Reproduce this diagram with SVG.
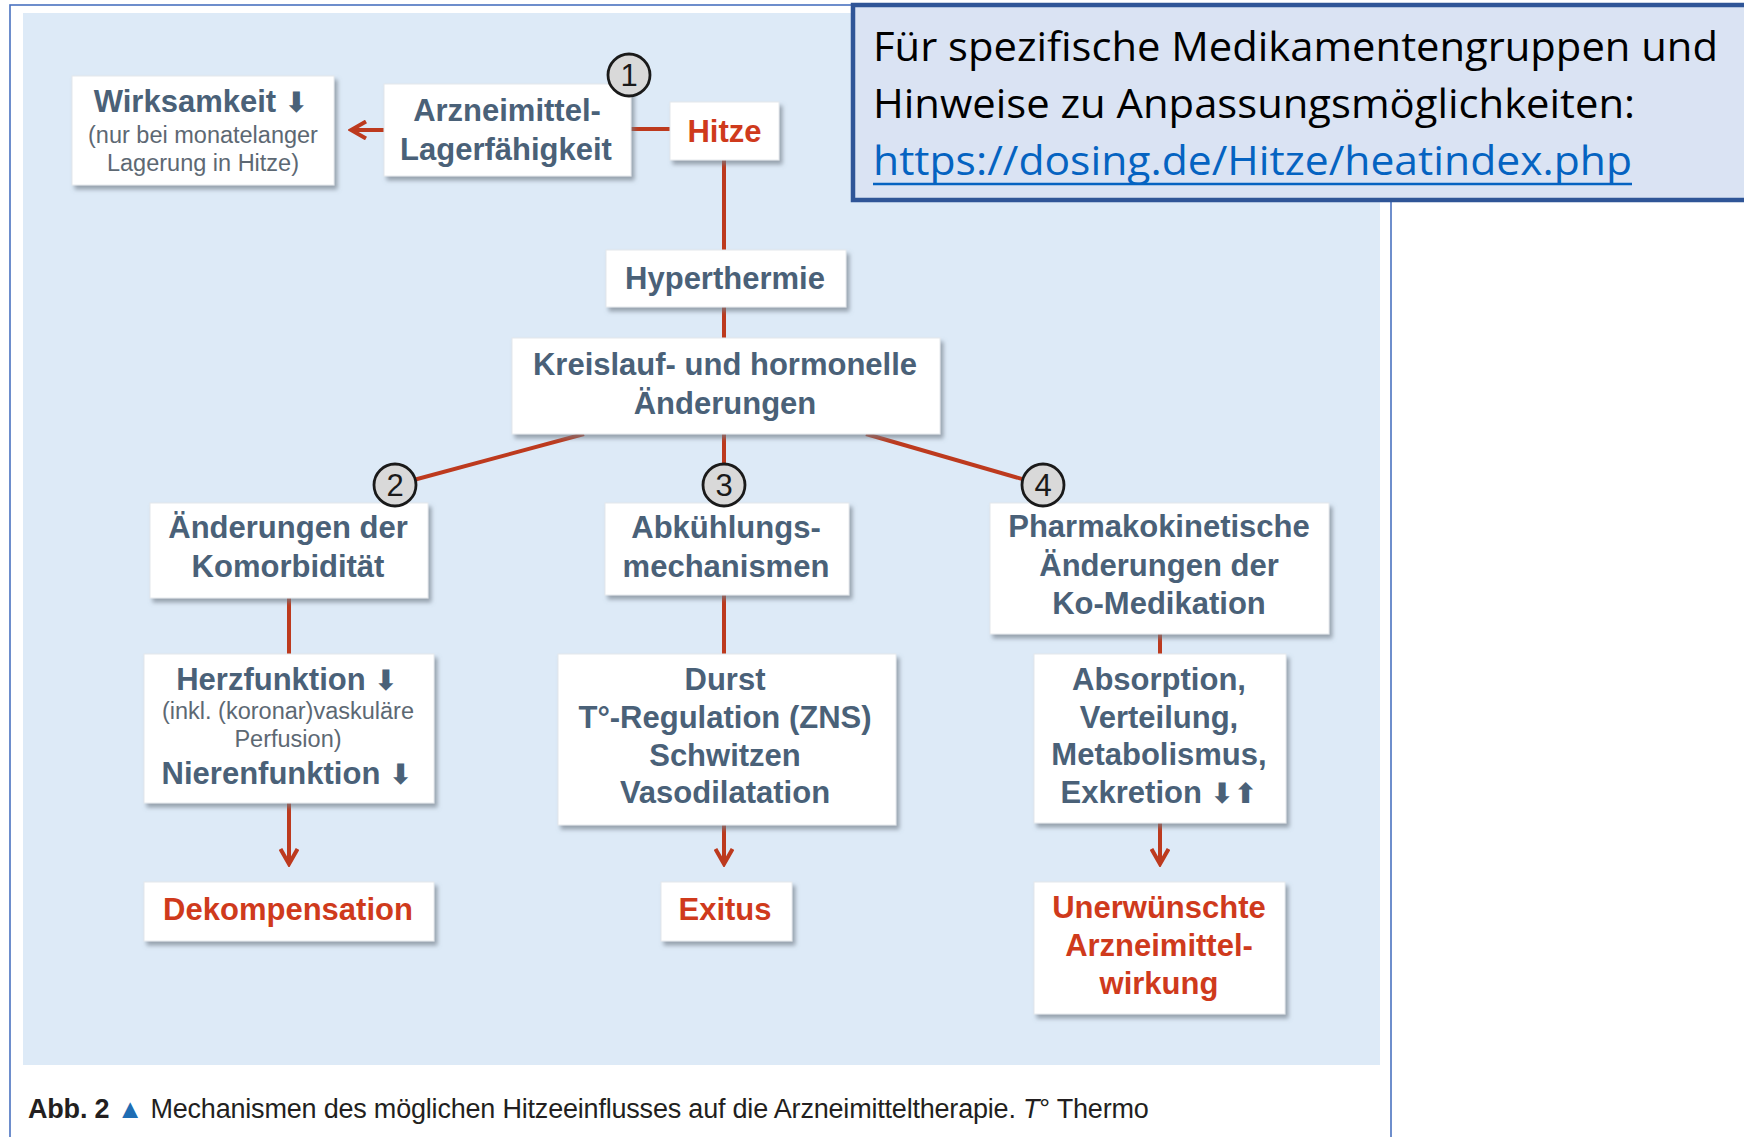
<svg xmlns="http://www.w3.org/2000/svg" width="1744" height="1137" viewBox="0 0 1744 1137">
<style>
.box{fill:#ffffff;stroke:#e4e8ec;stroke-width:1;filter:url(#sh)}
.lb{font-family:"Liberation Sans",Arial,sans-serif;font-weight:bold;font-size:31px;fill:#4a6178;text-anchor:middle}
.rd{fill:#cf3a1c}
.ar{font-family:"DejaVu Sans",sans-serif;font-weight:bold;font-size:28px}
.sm{font-family:"Liberation Sans",Arial,sans-serif;font-size:23.5px;fill:#5d6873;text-anchor:middle}
.ln{stroke:#bd3a1e;stroke-width:4;fill:none}
.cir{fill:#d9d9d9;stroke:#1a1a1a;stroke-width:2.8}
.num{font-family:"Liberation Sans",Arial,sans-serif;font-size:31px;fill:#1a1a1a;text-anchor:middle}
.call{font-family:"Open Sans","Noto Sans",sans-serif;font-size:40px;fill:#000000}
.link{fill:#0563c1}
.cap{font-family:"Liberation Sans",Arial,sans-serif;font-size:27px;fill:#231f20;letter-spacing:-0.2px}
</style>
<defs>
<filter id="sh" x="-10%" y="-10%" width="125%" height="135%">
<feDropShadow dx="3" dy="4" stdDeviation="2" flood-color="#6f7a86" flood-opacity="0.65"/>
</filter>
<marker id="chev" viewBox="0 0 20 20" refX="17" refY="10" markerWidth="20" markerHeight="20" markerUnits="userSpaceOnUse" orient="auto">
<path d="M2,1.5 L17,10 L2,18.5" fill="none" stroke="#bd3a1e" stroke-width="4" stroke-linejoin="miter"/>
</marker>
</defs>

<!-- background frame and panel -->
<rect x="0" y="0" width="1744" height="1137" fill="#ffffff"/>
<rect x="10" y="5" width="1381" height="1150" fill="#ffffff" stroke="#4a72c0" stroke-width="1.6"/>
<rect x="23" y="13" width="1357" height="1052" fill="#ddeaf7"/>

<!-- connectors -->
<g id="connectors">
<line class="ln" x1="631" y1="129" x2="670" y2="129"/>
<line class="ln" x1="384" y1="130" x2="351" y2="130" marker-end="url(#chev)"/>
<line class="ln" x1="724" y1="160" x2="724" y2="250"/>
<line class="ln" x1="724" y1="307" x2="724" y2="338"/>
<line class="ln" x1="584" y1="434" x2="395" y2="485"/>
<line class="ln" x1="724" y1="434" x2="724" y2="485"/>
<line class="ln" x1="866" y1="434" x2="1043" y2="485"/>
<line class="ln" x1="289" y1="598" x2="289" y2="654"/>
<line class="ln" x1="724" y1="595" x2="724" y2="654"/>
<line class="ln" x1="1160" y1="634" x2="1160" y2="654"/>
<line class="ln" x1="289" y1="803" x2="289" y2="864" marker-end="url(#chev)"/>
<line class="ln" x1="724" y1="825" x2="724" y2="864" marker-end="url(#chev)"/>
<line class="ln" x1="1160" y1="823" x2="1160" y2="864" marker-end="url(#chev)"/>
</g>

<g id="n-wirksamkeit">
<rect class="box" x="72" y="76" width="262" height="109"/>
<text class="lb" x="201" y="112">Wirksamkeit <tspan class="ar">⬇</tspan></text>
<text class="sm" x="203" y="143">(nur bei monatelanger</text>
<text class="sm" x="203" y="171">Lagerung in Hitze)</text>
</g>

<g id="n-lagerfaehigkeit">
<rect class="box" x="384" y="84" width="247" height="92"/>
<text class="lb" x="507" y="121">Arzneimittel-</text>
<text class="lb" x="506" y="160">Lagerfähigkeit</text>
</g>

<g id="n-hitze">
<rect class="box" x="670" y="102" width="109" height="58"/>
<text class="lb rd" x="724.5" y="142">Hitze</text>
</g>

<g id="n-hyperthermie">
<rect class="box" x="606" y="250" width="240" height="57"/>
<text class="lb" x="725" y="289">Hyperthermie</text>
</g>

<g id="n-kreislauf">
<rect class="box" x="512" y="338" width="428" height="96"/>
<text class="lb" x="725" y="375">Kreislauf- und hormonelle</text>
<text class="lb" x="725" y="414">Änderungen</text>
</g>

<g id="n-komorbiditaet">
<rect class="box" x="150" y="503" width="278" height="95"/>
<text class="lb" x="288" y="538">Änderungen der</text>
<text class="lb" x="288" y="577">Komorbidität</text>
</g>

<g id="n-abkuehlung">
<rect class="box" x="605" y="503" width="244" height="92"/>
<text class="lb" x="726" y="538">Abkühlungs-</text>
<text class="lb" x="726" y="577">mechanismen</text>
</g>

<g id="n-pharmakokinetik">
<rect class="box" x="990" y="503" width="339" height="131"/>
<text class="lb" x="1159" y="537">Pharmakokinetische</text>
<text class="lb" x="1159" y="576">Änderungen der</text>
<text class="lb" x="1159" y="614">Ko-Medikation</text>
</g>

<g id="n-herzfunktion">
<rect class="box" x="144" y="654" width="290" height="149"/>
<text class="lb" x="287" y="690">Herzfunktion <tspan class="ar">⬇</tspan></text>
<text class="sm" x="288" y="719">(inkl. (koronar)vaskuläre</text>
<text class="sm" x="288" y="747">Perfusion)</text>
<text class="lb" x="287" y="784">Nierenfunktion <tspan class="ar">⬇</tspan></text>
</g>

<g id="n-durst">
<rect class="box" x="558" y="654" width="338" height="171"/>
<text class="lb" x="725" y="690">Durst</text>
<text class="lb" x="725" y="728">T°-Regulation (ZNS)</text>
<text class="lb" x="725" y="766">Schwitzen</text>
<text class="lb" x="725" y="803">Vasodilatation</text>
</g>

<g id="n-absorption">
<rect class="box" x="1034" y="654" width="252" height="169"/>
<text class="lb" x="1159" y="690">Absorption,</text>
<text class="lb" x="1159" y="728">Verteilung,</text>
<text class="lb" x="1159" y="765">Metabolismus,</text>
<text class="lb" x="1159" y="803">Exkretion <tspan class="ar">⬇⬆</tspan></text>
</g>

<g id="n-dekompensation">
<rect class="box" x="144" y="882" width="290" height="59"/>
<text class="lb rd" x="288" y="920">Dekompensation</text>
</g>

<g id="n-exitus">
<rect class="box" x="661" y="882" width="131" height="59"/>
<text class="lb rd" x="725" y="920">Exitus</text>
</g>

<g id="n-unerwuenscht">
<rect class="box" x="1034" y="882" width="251" height="132"/>
<text class="lb rd" x="1159" y="918">Unerwünschte</text>
<text class="lb rd" x="1159" y="956">Arzneimittel-</text>
<text class="lb rd" x="1159" y="994">wirkung</text>
</g>

<g id="markers-numbers">
<circle class="cir" cx="629" cy="75" r="21"/>
<text class="num" x="629" y="86">1</text>
<circle class="cir" cx="395" cy="485" r="21"/>
<text class="num" x="395" y="496">2</text>
<circle class="cir" cx="724" cy="485" r="21"/>
<text class="num" x="724" y="496">3</text>
<circle class="cir" cx="1043" cy="485" r="21"/>
<text class="num" x="1043" y="496">4</text>
</g>

<g id="caption">
<text class="cap" x="28" y="1118"><tspan font-weight="bold">Abb. 2</tspan> <tspan fill="#1f6db3">▲</tspan> Mechanismen des möglichen Hitzeeinflusses auf die Arzneimitteltherapie. <tspan font-style="italic">T</tspan>° Thermo</text>
</g>

<g id="callout">
<rect x="853" y="5" width="1000" height="195" fill="#dae3f3" stroke="#2f5597" stroke-width="4.5"/>
<text class="call" x="873" y="61" textLength="845" lengthAdjust="spacingAndGlyphs">Für spezifische Medikamentengruppen und</text>
<text class="call" x="873" y="118" textLength="762" lengthAdjust="spacingAndGlyphs">Hinweise zu Anpassungsmöglichkeiten:</text>
<text class="call link" x="873" y="175" textLength="759" lengthAdjust="spacingAndGlyphs">https://dosing.de/Hitze/heatindex.php</text>
<line x1="873" y1="184" x2="1632" y2="184" stroke="#0563c1" stroke-width="2.5"/>
</g>
</svg>
